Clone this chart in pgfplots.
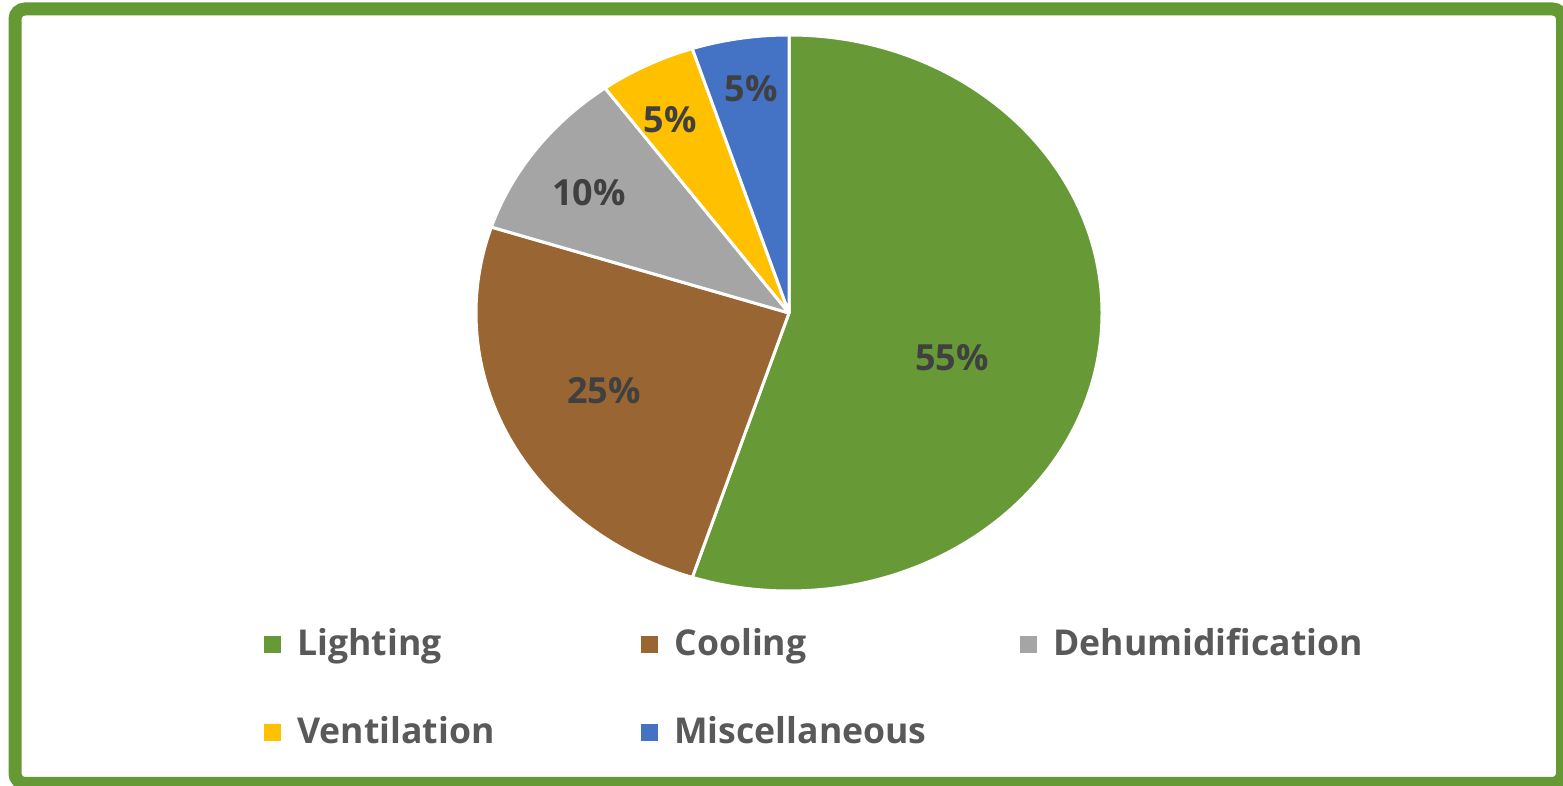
\documentclass[border=0pt]{standalone}
\usepackage{pgfplots}
\pgfplotsset{compat=1.18}
\usetikzlibrary{calc}
\usepackage{fontspec}
\setmainfont{Open Sans}
\definecolor{pgreen}{RGB}{103,154,55}
\definecolor{pbrown}{RGB}{153,102,51}
\definecolor{pgray}{RGB}{165,165,165}
\definecolor{pyellow}{RGB}{255,192,0}
\definecolor{pblue}{RGB}{68,114,196}
\definecolor{bordergreen}{RGB}{101,153,51}
\definecolor{labtext}{RGB}{64,64,64}
\definecolor{legtext}{RGB}{89,89,89}
\begin{document}
\begin{tikzpicture}
\useasboundingbox (0,0) rectangle (781.5pt,393pt);
\begin{axis}[
  at={(0,0)}, anchor=south west,
  width=781.5pt, height=393pt, scale only axis,
  xmin=0, xmax=1563, ymin=0, ymax=786,
  hide axis, clip=false]
\pgfplotsextra{
  \draw[bordergreen, line width=6.5pt, rounded corners=5pt]
    (axis cs:15,777) rectangle (axis cs:1562.5,2.5);
  \gdef\pieangle{90}
  \foreach \v/\c in {55/pgreen,25/pbrown,10/pgray,5/pyellow,5/pblue}{
    \pgfmathsetmacro\s{\pieangle}
    \pgfmathsetmacro\e{\pieangle-3.6*\v}
    \filldraw[fill=\c, draw=white, line width=1.5pt, line join=round]
      (axis cs:789,473) -- ++(\s:156.5pt and 139pt)
      arc[start angle=\s, end angle=\e, x radius=156.5pt, y radius=139pt] -- cycle;
    \xdef\pieangle{\e}
  }
  \foreach \x/\y/\t in {952/428/55\%, 604/395/25\%, 589/593/10\%, 670/666/5\%, 751/697/5\%}{
    \node[text=labtext, font=\fontsize{18pt}{21pt}\selectfont\bfseries] at (axis cs:\x,\y) {\t};
  }
  \foreach \x/\y/\c/\t in {297/130/pgreen/Lighting, 674/130/pbrown/Cooling, 1053/130/pgray/Dehumidification, 297/42/pyellow/Ventilation, 674/42/pblue/Miscellaneous}{
    \fill[\c] ($(axis cs:\x,\y)+(-16.75pt,1.25pt)$) rectangle ++(8.5pt,8.5pt);
    \node[anchor=base west, inner sep=0pt, text=legtext, font=\fontsize{17.8pt}{21pt}\selectfont\bfseries] at (axis cs:\x,\y) {\t};
  }
}
\end{axis}
\end{tikzpicture}
\end{document}
